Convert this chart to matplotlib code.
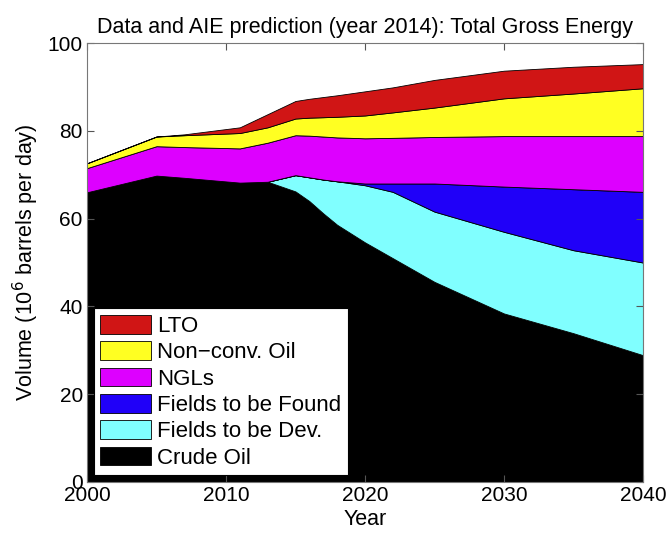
import matplotlib

matplotlib.use("Agg")
import matplotlib.pyplot as plt
import numpy as np

plt.rcParams["font.family"] = ["Liberation Sans", "DejaVu Sans"]

years = [2000, 2005, 2007, 2011, 2013, 2015, 2016, 2017, 2018, 2020, 2022, 2025, 2030, 2035, 2040]

# cumulative tops (10^6 barrels per day)
crude_top = [66.0, 69.8, 69.3, 68.2, 68.4, 66.2, 64.0, 61.2, 58.6, 54.6, 51.0, 45.6, 38.4, 33.9, 28.9]
dev_top = [66.0, 69.8, 69.3, 68.2, 68.4, 69.9, 69.4, 68.9, 68.5, 67.6, 66.1, 61.6, 57.0, 52.8, 50.0]
found_top = [66.0, 69.8, 69.3, 68.2, 68.4, 69.9, 69.4, 68.9, 68.5, 68.0, 68.0, 68.0, 67.3, 66.7, 66.1]
ngl_top = [71.5, 76.5, 76.3, 76.0, 77.3, 79.0, 78.9, 78.7, 78.5, 78.3, 78.4, 78.6, 78.8, 78.8, 78.8]
nonconv_top = [72.6, 78.7, 79.0, 79.5, 80.8, 82.8, 83.0, 83.1, 83.2, 83.5, 84.2, 85.3, 87.4, 88.5, 89.7]
lto_top = [72.6, 78.7, 79.2, 80.8, 83.8, 86.8, 87.3, 87.7, 88.1, 89.0, 89.9, 91.6, 93.7, 94.6, 95.2]

labels = ["Crude Oil", "Fields to be Dev.", "Fields to be Found", "NGLs", "Non\u2212conv. Oil", "LTO"]
colors = ["#000000", "#80FFFF", "#2000F8", "#DD00FF", "#FFFF22", "#D01515"]

tops = np.array([crude_top, dev_top, found_top, ngl_top, nonconv_top, lto_top])
layers = np.diff(np.vstack([np.zeros(len(years)), tops]), axis=0)

fig = plt.figure(figsize=(6.69, 5.34), dpi=100)
ax = fig.add_axes([0.130, 0.0974, 0.831, 0.822])

ax.stackplot(years, layers, colors=colors, labels=labels,
             edgecolor="black", linewidth=0.6)

ax.set_xlim(2000, 2040)
ax.set_ylim(0, 100)
ax.set_xticks([2000, 2010, 2020, 2030, 2040])
ax.set_yticks([0, 20, 40, 60, 80, 100])
ax.tick_params(direction="in", top=True, right=True, labelsize=15, length=5,
               color="#555555", pad=3)
for sp in ax.spines.values():
    sp.set_color("#777777")
    sp.set_linewidth(0.8)
    sp.set_zorder(5)

ax.set_title("Data and AIE prediction (year 2014): Total Gross Energy", fontsize=15.5, pad=7)
ax.set_xlabel("Year", fontsize=15.5, labelpad=3)
ax.set_ylabel("Volume (10$^6$ barrels per day)", fontsize=15.5, labelpad=5)

handles, labs = ax.get_legend_handles_labels()
leg = ax.legend(handles[::-1], labs[::-1], loc="lower left", fontsize=16,
                frameon=True, fancybox=False, edgecolor="black", framealpha=1,
                handlelength=2.3, handleheight=0.9, handletextpad=0.25,
                labelspacing=0.2, borderpad=0.3, borderaxespad=0.3)
leg.get_frame().set_linewidth(0.8)

fig.savefig("out.png", dpi=100)
